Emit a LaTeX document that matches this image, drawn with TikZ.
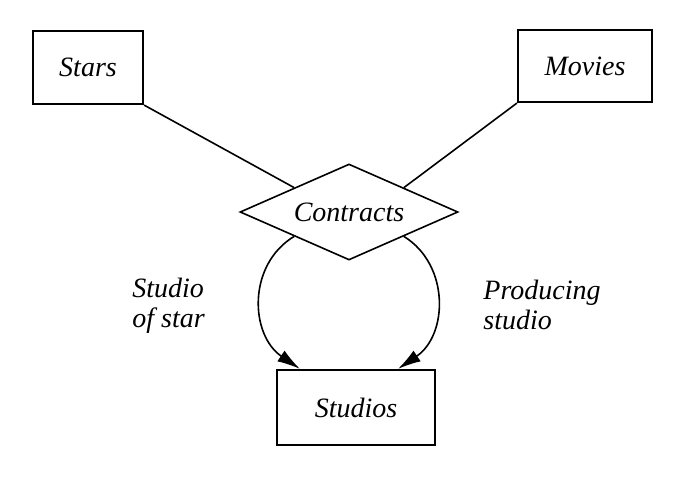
\documentclass[tikz,border=0pt]{standalone}
\usepackage{fontspec}
\setmainfont{Liberation Serif}
\usetikzlibrary{shapes.geometric,arrows.meta}
\tikzset{
  erdiag/.style={
    x=0.5pt, y=-0.5pt,
    every node/.style={font=\fontsize{14}{15}\selectfont\itshape},
  },
  entity/.style={draw, line width=1.1pt, inner sep=0pt},
  relship/.style={draw, diamond, aspect=2.27, line width=0.8pt, inner sep=0pt,
    minimum width=109pt, minimum height=48pt},
  rolelabel/.style={align=left, inner sep=0pt, anchor=west},
  link/.style={line width=0.8pt},
  rolearrow/.style={line width=0.8pt, -{Latex[length=11.5pt,width=6.5pt]}}
}

\begin{document}
\begin{tikzpicture}[erdiag]
	\useasboundingbox (0,0) rectangle (694,477);
	% entity sets
	\node[entity, minimum width=55pt, minimum height=36.5pt] (stars) at (88,67.5) {Stars};
	\node[entity, minimum width=67pt, minimum height=36pt] (movies) at (585,66) {Movies};
	\node[entity, minimum width=79pt, minimum height=37.5pt] (studios) at (356,407.5) {Studios};
	% relationship
	\node[relship] (contracts) at (349,212) {Contracts};
	\draw[link] (stars.south east) -- (contracts.north west);
	\draw[link] (movies.south west) -- (contracts.north east);
	% roles
	\coordinate (sosend) at ([xshift=-28pt]studios.north);
	\coordinate (psend) at ([xshift=21pt]studios.north);
	\draw[rolearrow] (contracts.south west) .. controls (247,265) and (250,335) .. (sosend);
	\draw[rolearrow] (contracts.south east) .. controls (450,265) and (448,335) .. (psend);
	\node[rolelabel] (sos) at (132,306) {Studio\\of star};
	\node[rolelabel] (prod) at (483,305) {Producing\\studio};
\end{tikzpicture}
\end{document}
